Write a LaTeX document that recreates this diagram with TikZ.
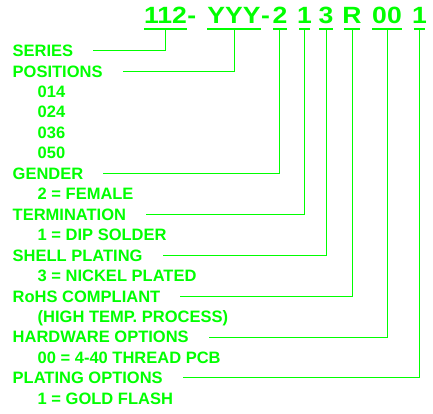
\documentclass[tikz,border=0pt]{standalone}
\usepackage{fontspec}
\setmainfont{Liberation Sans}
\definecolor{lime}{RGB}{0,255,0}
\begin{document}
\begin{tikzpicture}[x=1pt,y=-1pt,
  lbl/.style={anchor=west,inner sep=0pt,text height=11.8pt,text depth=0pt,text=lime,font=\fontsize{16.5}{16.5}\selectfont\bfseries},
  hdr/.style={anchor=base,inner sep=0pt,text=lime,xscale=1.13,transform shape,font=\fontsize{23.5}{23.5}\selectfont\bfseries},
  uline/.style={draw=lime,line width=2pt},
  conn/.style={draw=lime,line width=1pt}]
\useasboundingbox (0,0) rectangle (433,413);
% header
\node[hdr] (h1) at (165.5,23.5) {112};
\node[hdr,anchor=base west] (d1) at (h1.base east) {-};
\node[hdr] (h2) at (234,23.5) {YYY};
\node[hdr,anchor=base west] (d2) at (h2.base east) {-};
\node[hdr] (h3) at (280,23.5) {2};
\node[hdr] (h4) at (304.5,23.5) {1};
\node[hdr] (h5) at (326,23.5) {3};
\node[hdr] (h6) at (352,23.5) {R};
\node[hdr] (h7) at (387,23.5) {00};
\node[hdr] (h8) at (419.5,23.5) {1};
% underlines
\draw[uline] (144,28.5) -- (187,28.5);
\draw[uline] (207,28.5) -- (261,28.5);
\draw[uline] (273,28.5) -- (287,28.5);
\draw[uline] (299,28.5) -- (310,28.5);
\draw[uline] (319,28.5) -- (333,28.5);
\draw[uline] (344,28.5) -- (360,28.5);
\draw[uline] (372,28.5) -- (402,28.5);
\draw[uline] (414,28.5) -- (425,28.5);
\coordinate (u1) at (165.5,29);
\coordinate (u2) at (234,29);
\coordinate (u3) at (279.5,29);
\coordinate (u4) at (304,29);
\coordinate (u5) at (326,29);
\coordinate (u6) at (352.5,29);
\coordinate (u7) at (387,29);
\coordinate (u8) at (419.5,29);
% labels
\node[lbl] (series) at (12.5,50.7) {SERIES};
\node[lbl] (positions) at (12.5,71.15) {POSITIONS};
\node[lbl] (p1) at (37.5,91.6) {014};
\node[lbl] (p2) at (37.5,112.05) {024};
\node[lbl] (p3) at (37.5,132.5) {036};
\node[lbl] (p4) at (37.5,152.95) {050};
\node[lbl] (gender) at (12.5,173.4) {GENDER};
\node[lbl] (g1) at (37.5,193.85) {2 = FEMALE};
\node[lbl] (term) at (12.5,214.3) {TERMINATION};
\node[lbl] (t1) at (37.5,234.75) {1 = DIP SOLDER};
\node[lbl] (shell) at (12.5,255.2) {SHELL PLATING};
\node[lbl] (s1) at (37.5,275.65) {3 = NICKEL PLATED};
\node[lbl] (rohs) at (12.5,296.1) {RoHS COMPLIANT};
\node[lbl] (r1) at (37.5,316.55) {(HIGH TEMP. PROCESS)};
\node[lbl] (hw) at (12.5,337) {HARDWARE OPTIONS};
\node[lbl] (hw1) at (37.5,357.45) {00 = 4-40 THREAD PCB};
\node[lbl] (plat) at (12.5,377.9) {PLATING OPTIONS};
\node[lbl] (pl1) at (37.5,398.35) {1 = GOLD FLASH};
% connectors
\draw[conn] (u1) |- ([xshift=20pt]series.east);
\draw[conn] (u2) |- ([xshift=20pt]positions.east);
\draw[conn] (u3) |- ([xshift=20pt]gender.east);
\draw[conn] (u4) |- ([xshift=20pt]term.east);
\draw[conn] (u5) |- ([xshift=20pt]shell.east);
\draw[conn] (u6) |- ([xshift=20pt]rohs.east);
\draw[conn] (u7) |- ([xshift=20pt]hw.east);
\draw[conn] (u8) |- ([xshift=20pt]plat.east);
\end{tikzpicture}
\end{document}
